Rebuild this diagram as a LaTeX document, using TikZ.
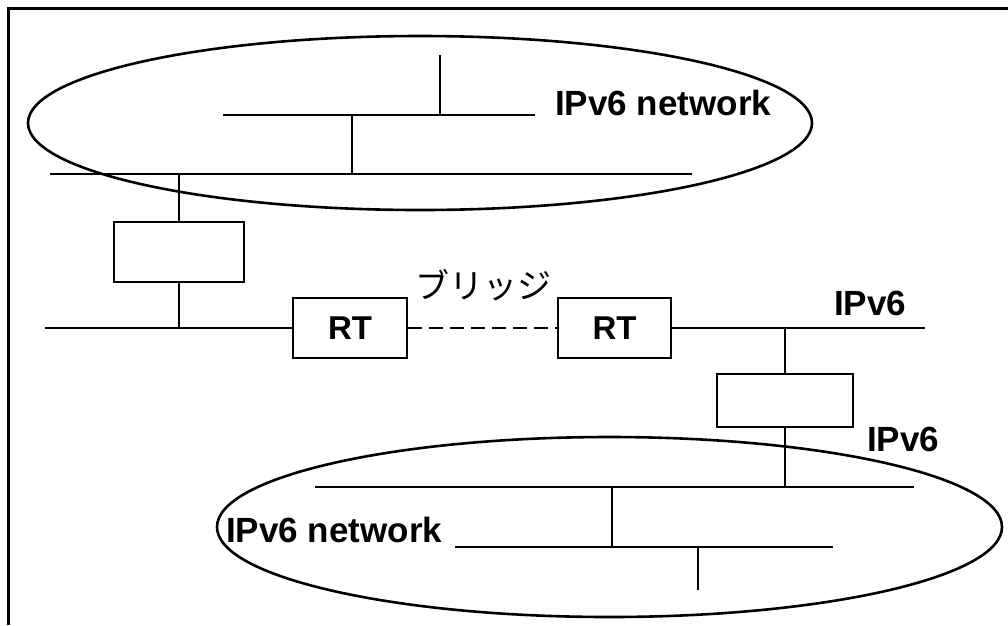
\documentclass[tikz,border=0pt]{standalone}
\usepackage{fontspec}
\setmainfont{Liberation Sans}
\newfontfamily\jp{Noto Sans CJK JP}
\begin{document}
\begin{tikzpicture}[x=1pt,y=-1pt,
  wire/.style={line width=2.8pt},
  netbox/.style={draw,line width=2.8pt,inner sep=0pt,minimum width=#1},
  rtfont/.style={font=\fontsize{33}{33}\selectfont\bfseries},
  lbl/.style={font=\fontsize{35}{35}\selectfont\bfseries,inner sep=0pt,anchor=base west},
  cloud/.style={line width=2.6pt}
]
\useasboundingbox (0,0) rectangle (1008,625);
% frame
\coordinate (fl) at (8,625);
\coordinate (fc) at (8,8);
\coordinate (fr) at (1008,8);
\draw[line width=3pt] (fl) -- (fc) -- (fr);

% ellipses
\draw[cloud] (420,123) ellipse [x radius=392, y radius=87];
\draw[cloud] (609.5,527) ellipse [x radius=392.5, y radius=90];

% boxes
\node[netbox=130pt,minimum height=60pt] (b1) at (179,252) {};
\node[netbox=114pt,minimum height=60pt,rtfont] (rt1) at (350,328) {RT};
\node[netbox=113pt,minimum height=60pt,rtfont] (rt2) at (614.5,328) {RT};
\node[netbox=136pt,minimum height=53pt] (b2) at (785,400.5) {};

% top network
\coordinate (s1) at (223,115);
\coordinate (s2) at (535,115);
\coordinate (s3) at (440,55);
\coordinate (s4) at (440,115);
\coordinate (s5) at (352,115);
\coordinate (s6) at (352,174);
\coordinate (m1) at (50,174);
\coordinate (m2) at (692,174);
\coordinate (m3) at (179,174);
\draw[wire] (s1) -- (s2);
\draw[wire] (s3) -- (s4);
\draw[wire] (s5) -- (s6);
\draw[wire] (m1) -- (m2);
\draw[wire] (m3) -- (b1.north);

% middle line
\coordinate (l1) at (45,328);
\coordinate (l2) at (179,328);
\coordinate (r1) at (925,328);
\coordinate (r2) at (785,328);
\draw[wire] (b1.south) -- (l2);
\draw[wire] (l1) -- (rt1.west);
\draw[wire,dash pattern=on 14pt off 7pt] (rt1.east) -- (rt2.west);
\draw[wire] (rt2.east) -- (r1);
\draw[wire] (r2) -- (b2.north);

% bottom network
\coordinate (n1) at (315,487);
\coordinate (n2) at (914,487);
\coordinate (n3) at (785,487);
\coordinate (n4) at (612,487);
\coordinate (n5) at (612,547);
\coordinate (n6) at (455,547);
\coordinate (n7) at (833,547);
\coordinate (n8) at (698,547);
\coordinate (n9) at (698,590);
\draw[wire] (b2.south) -- (n3);
\draw[wire] (n1) -- (n2);
\draw[wire] (n4) -- (n5);
\draw[wire] (n6) -- (n7);
\draw[wire] (n8) -- (n9);

% labels
\node[lbl] (t1) at (555,115) {IPv6 network};
\node[lbl] (t2) at (226,542) {IPv6 network};
\node[lbl] (t3) at (834,315) {IPv6};
\node[lbl] (t4) at (867,451) {IPv6};
\node[inner sep=0pt,font=\jp\fontsize{34}{34}\selectfont] (br) at (483,285) {ブリッジ};
\end{tikzpicture}
\end{document}
